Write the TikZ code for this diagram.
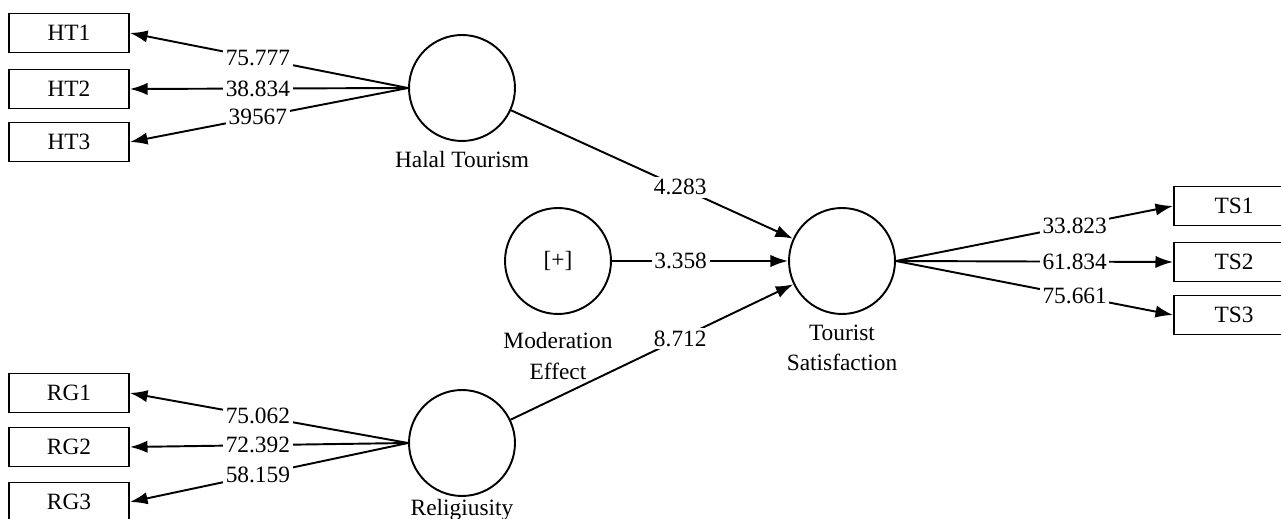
\documentclass[tikz,border=0pt]{standalone}
\usepackage{fontspec}
\setmainfont{Liberation Serif}
\usetikzlibrary{positioning,arrows.meta}

\begin{document}
\begin{tikzpicture}[x=0.02cm, y=-0.02cm,
    font=\fontsize{13.3}{17.5}\selectfont,
    line width=1.1pt,
    latent/.style={circle, draw, minimum size=2.12cm, inner sep=0pt},
    item/.style={rectangle, draw, minimum width=2.4cm, minimum height=0.78cm, inner sep=0pt},
    caption/.style={align=center, inner sep=0pt},
    coef/.style={fill=white, inner sep=1.5pt},
    link/.style={-{Latex[length=10pt,width=7pt]}}]
    % Fix the frame of the picture
    \useasboundingbox (0,0) rectangle (1281,519);
    \clip (0,0) rectangle (1281,519);
    % Draw the latent variables
    \node[latent] (ht) at (462,88) {};
    \node[latent] (rg) at (462,443) {};
    \node[latent] (mod) at (558,261) {[+]};
    \node[latent] (ts) at (842,261) {};
    % Names below the circles
    \node[caption, below=5pt of ht] (htcap) {Halal Tourism};
    \node[caption, below=0.5pt of rg] (rgcap) {Religiusity};
    \node[caption, below=9.5pt of mod] (modcap) {Moderation\\Effect};
    \node[caption, below=5pt of ts] (tscap) {Tourist\\Satisfaction};
    % Draw the indicator boxes
    \node[item] (ht1) at (69,33) {HT1};
    \node[item] (ht2) at (69,89) {HT2};
    \node[item] (ht3) at (69,142) {HT3};
    \node[item] (rg1) at (69,393) {RG1};
    \node[item] (rg2) at (69,447) {RG2};
    \node[item] (rg3) at (69,502) {RG3};
    \node[item] (ts1) at (1234,206) {TS1};
    \node[item] (ts2) at (1234,262) {TS2};
    \node[item] (ts3) at (1234,315) {TS3};
    % Outer loadings of Halal Tourism
    \draw[link] (ht.west) -- node[coef, pos=0.54] {75.777} (ht1.east);
    \draw[link] (ht.west) -- node[coef, pos=0.54] {38.834} (ht2.east);
    \draw[link] (ht.west) -- node[coef, pos=0.54] {39567} (ht3.east);
    % Outer loadings of Religiusity
    \draw[link] (rg.west) -- node[coef, pos=0.54] {75.062} (rg1.east);
    \draw[link] (rg.west) -- node[coef, pos=0.54] {72.392} (rg2.east);
    \draw[link] (rg.west) -- node[coef, pos=0.54] {58.159} (rg3.east);
    % Outer loadings of Tourist Satisfaction
    \draw[link] (ts.east) -- node[coef, pos=0.645] {33.823} (ts1.west);
    \draw[link] (ts.east) -- node[coef, pos=0.645] {61.834} (ts2.west);
    \draw[link] (ts.east) -- node[coef, pos=0.645] {75.661} (ts3.west);
    % Inner paths
    \draw[link] (ht) -- node[coef, pos=0.6] {4.283} (ts);
    \draw[link] (mod) -- node[coef, pos=0.39] {3.358} (ts);
    \draw[link] (rg) -- node[coef, pos=0.6] {8.712} (ts);
\end{tikzpicture}
\end{document}
